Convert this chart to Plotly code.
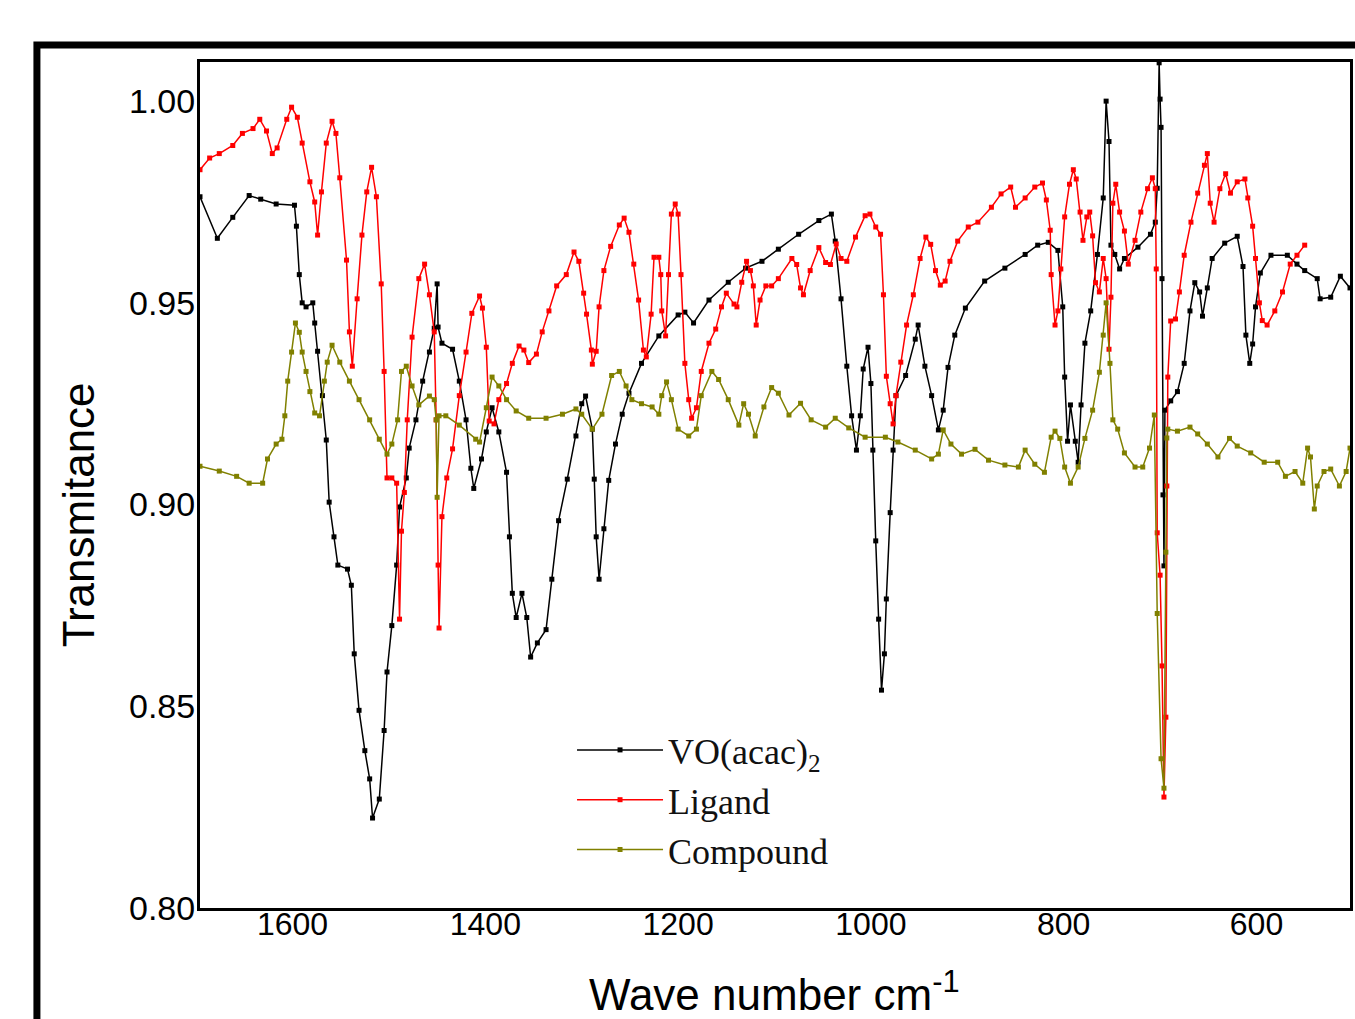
import plotly.graph_objects as go

# ---------------- data ----------------
vo_wn = [1696, 1678, 1662, 1645, 1633, 1617, 1598, 1596, 1593, 1590, 1586, 1579, 1577, 1574, 1569, 1565,
         1562, 1557, 1553, 1543, 1539, 1536, 1531, 1525, 1520, 1517, 1510, 1505, 1502, 1497, 1492, 1489,
         1482, 1479, 1472, 1465, 1458, 1453, 1450, 1449, 1445, 1434, 1427, 1420, 1415, 1412, 1404, 1399,
         1393, 1386, 1378, 1375, 1372, 1368, 1362, 1357, 1353, 1346, 1337, 1331, 1324, 1315, 1306, 1300,
         1296, 1289, 1287, 1285, 1282, 1277, 1272, 1265, 1258, 1251, 1238, 1220, 1200, 1193, 1184, 1168,
         1148, 1130, 1113, 1096, 1075, 1054, 1041, 1037, 1031, 1025, 1020, 1015, 1011, 1008, 1003, 1000,
         998, 995, 992, 989, 986, 984, 980, 977, 974, 964, 954, 951, 944, 937, 930, 925, 920, 913, 902,
         882, 861, 840, 827, 816, 806, 801, 799, 796, 793, 788, 785, 782, 778, 772, 765, 759, 756, 753,
         751, 747, 742, 737, 723, 710, 705, 703, 701, 700, 699, 698, 697, 696, 695, 689, 682, 675, 669,
         664, 659, 656, 651, 646, 633, 620, 614, 611, 607, 604, 601, 596, 585, 568, 558, 550, 537, 534,
         523, 513, 503]
vo_t = [0.9763, 0.966, 0.9712, 0.9766, 0.9757, 0.9745, 0.9742, 0.969, 0.957, 0.950, 0.949, 0.950, 0.945,
        0.938, 0.927, 0.916, 0.9006, 0.892, 0.885, 0.884, 0.880, 0.863, 0.849, 0.839, 0.832, 0.8223, 0.827,
        0.844, 0.8585, 0.870, 0.885, 0.8994, 0.9066, 0.914, 0.921, 0.9306, 0.9378, 0.9437, 0.9547, 0.944,
        0.940, 0.9385, 0.9306, 0.921, 0.909, 0.904, 0.9113, 0.918, 0.924, 0.918, 0.908, 0.892, 0.878,
        0.872, 0.878, 0.872, 0.8622, 0.8657, 0.869, 0.8815, 0.896, 0.9063, 0.917, 0.925, 0.9269, 0.9187,
        0.9063, 0.892, 0.8815, 0.894, 0.906, 0.915, 0.9224, 0.9276, 0.935, 0.9418, 0.947, 0.9477, 0.945,
        0.9507, 0.9551, 0.9586, 0.9603, 0.9633, 0.967, 0.9704, 0.972, 0.9653, 0.951, 0.9343, 0.922, 0.9135,
        0.922, 0.9336, 0.939, 0.930, 0.9135, 0.891, 0.8716, 0.854, 0.863, 0.8766, 0.898, 0.9135, 0.927,
        0.932, 0.941, 0.9445, 0.9343, 0.927, 0.9185, 0.9234, 0.934, 0.942, 0.9487, 0.9554, 0.9586, 0.962,
        0.9643, 0.965, 0.963, 0.949, 0.9316, 0.9157, 0.9247, 0.9157, 0.9105, 0.9247, 0.940, 0.948, 0.962,
        0.976, 1.000, 0.990, 0.9643, 0.962, 0.9584, 0.961, 0.9638, 0.967, 0.970, 0.9784, 1.0095, 1.0005,
        0.9935, 0.956, 0.9024, 0.8848, 0.9234, 0.9257, 0.928, 0.935, 0.948, 0.955, 0.9527, 0.9467, 0.9537,
        0.961, 0.9648, 0.9665, 0.959, 0.942, 0.935, 0.9398, 0.949, 0.9574, 0.9618, 0.9618, 0.9596, 0.958,
        0.956, 0.951, 0.9514, 0.9566, 0.9537]

lig_wn = [1696, 1686, 1676, 1662, 1652, 1641, 1634, 1627, 1621, 1616, 1606, 1601, 1595, 1590, 1582, 1577,
          1574, 1570, 1565, 1559, 1555, 1551, 1544, 1541, 1538, 1533, 1528, 1523, 1518, 1513, 1508, 1505,
          1502, 1497, 1492, 1489, 1487, 1484, 1481, 1476, 1469, 1463, 1458, 1453, 1451, 1449, 1448, 1445,
          1440, 1434, 1427, 1420, 1414, 1406, 1403, 1399, 1396, 1391, 1386, 1378, 1372, 1365, 1360, 1355,
          1347, 1341, 1334, 1326, 1316, 1308, 1303, 1298, 1295, 1290, 1289, 1285, 1282, 1277, 1270, 1261,
          1256, 1251, 1246, 1241, 1236, 1233, 1228, 1225, 1220, 1218, 1217, 1213, 1210, 1207, 1203, 1200,
          1197, 1193, 1189, 1186, 1181, 1176, 1168, 1161, 1155, 1150, 1142, 1139, 1134, 1129, 1125, 1122,
          1119, 1115, 1109, 1103, 1096, 1082, 1077, 1073, 1070, 1063, 1054, 1047, 1042, 1036, 1031, 1025,
          1016, 1006, 1001, 995, 990, 987, 984, 980, 977, 974, 969, 963, 956, 949, 943, 938, 933, 928, 923,
          918, 910, 899, 889, 875, 865, 855, 850, 840, 830, 822, 818, 814, 813, 809, 806, 803, 799, 794,
          790, 787, 783, 780, 776, 773, 770, 767, 763, 759, 756, 753, 751, 749, 746, 742, 737, 733, 726,
          720, 713, 708, 705, 704, 703, 700, 698, 696, 694, 693, 692, 689, 684, 680, 675, 668, 661, 654,
          651, 648, 644, 638, 632, 627, 620, 612, 609, 604, 601, 597, 594, 589, 581, 573, 565, 558, 550]
lig_t = [0.983, 0.9859, 0.987, 0.989, 0.992, 0.9932, 0.9955, 0.9926, 0.987, 0.9884, 0.9955, 0.9985, 0.996,
         0.9896, 0.980, 0.975, 0.9668, 0.9775, 0.9896, 0.995, 0.992, 0.981, 0.9606, 0.9428, 0.9343, 0.951,
         0.9668, 0.9775, 0.9836, 0.9763, 0.9547, 0.933, 0.9066, 0.9066, 0.9053, 0.8716, 0.8934, 0.903,
         0.921, 0.9415, 0.956, 0.9596, 0.952, 0.9428, 0.921, 0.885, 0.8694, 0.897, 0.9066, 0.9138, 0.927,
         0.9378, 0.9474, 0.9517, 0.9487, 0.939, 0.9207, 0.920, 0.926, 0.930, 0.935, 0.9393, 0.9383, 0.9352,
         0.9373, 0.9428, 0.948, 0.9542, 0.957, 0.9626, 0.9603, 0.9524, 0.9472, 0.9383, 0.9348, 0.938,
         0.949, 0.958, 0.964, 0.9693, 0.971, 0.9675, 0.9596, 0.9507, 0.9383, 0.9366, 0.9472, 0.9613,
         0.9613, 0.957, 0.948, 0.9418, 0.957, 0.972, 0.9745, 0.972, 0.957, 0.935, 0.926, 0.9214, 0.924,
         0.933, 0.940, 0.9435, 0.949, 0.9524, 0.9497, 0.949, 0.9551, 0.9603, 0.958, 0.9542, 0.9445, 0.9507,
         0.9542, 0.9542, 0.956, 0.961, 0.9595, 0.9537, 0.952, 0.958, 0.9637, 0.960, 0.9595, 0.9646, 0.961,
         0.9603, 0.9663, 0.9716, 0.972, 0.9688, 0.967, 0.952, 0.9318, 0.925, 0.920, 0.927, 0.9353, 0.9445,
         0.952, 0.961, 0.9663, 0.9645, 0.958, 0.9544, 0.9554, 0.9603, 0.9653, 0.9688, 0.970, 0.9737, 0.977,
         0.9787, 0.9737, 0.976, 0.9787, 0.9797, 0.9755, 0.968, 0.957, 0.9445, 0.948, 0.9584, 0.9713,
         0.9794, 0.983, 0.9807, 0.9725, 0.9655, 0.9713, 0.9725, 0.9666, 0.955, 0.9527, 0.961, 0.956,
         0.9385, 0.9514, 0.9747, 0.9794, 0.9725, 0.9678, 0.9596, 0.9655, 0.9725, 0.9783, 0.981, 0.9783,
         0.9584, 0.893, 0.8825, 0.860, 0.8275, 0.8473, 0.9046, 0.9316, 0.9455, 0.946, 0.9527, 0.9618,
         0.970, 0.9772, 0.9841, 0.987, 0.9747, 0.970, 0.9783, 0.982, 0.9772, 0.980, 0.9807, 0.976, 0.969,
         0.961, 0.950, 0.9456, 0.9445, 0.948, 0.9527, 0.9596, 0.9618, 0.9643]

cmp_wn = [1696, 1676, 1658, 1645, 1631, 1626, 1617, 1611, 1608, 1605, 1601, 1597, 1593, 1590, 1586, 1582,
          1577, 1572, 1567, 1564, 1559, 1551, 1541, 1531, 1520, 1510, 1502, 1497, 1491, 1487, 1482, 1476,
          1469, 1458, 1453, 1451, 1450, 1448, 1441, 1427, 1410, 1406, 1399, 1393, 1386, 1378, 1368, 1355,
          1337, 1320, 1306, 1300, 1289, 1279, 1269, 1261, 1254, 1248, 1238, 1227, 1220, 1217, 1212, 1207,
          1200, 1189, 1181, 1176, 1165, 1158, 1148, 1137, 1132, 1127, 1120, 1111, 1103, 1096, 1085, 1073,
          1062, 1047, 1037, 1023, 1006, 985, 972, 954, 937, 930, 925, 917, 906, 892, 878, 861, 847, 840,
          830, 820, 813, 809, 804, 799, 793, 785, 778, 770, 763, 759, 756, 752, 749, 744, 737, 726, 718,
          711, 706, 703, 699, 696, 694, 693, 692, 682, 669, 661, 651, 640, 628, 620, 606, 592, 578, 570,
          560, 552, 547, 544, 540, 537, 530, 523, 514, 507, 503]
cmp_t = [0.9095, 0.9083, 0.907, 0.9053, 0.9053, 0.9113, 0.915, 0.9162, 0.922, 0.9306, 0.9378, 0.945,
         0.9427, 0.9378, 0.933, 0.928, 0.9227, 0.922, 0.9306, 0.9353, 0.9395, 0.9353, 0.9306, 0.926, 0.921,
         0.9162, 0.9125, 0.915, 0.921, 0.933, 0.9343, 0.9294, 0.9247, 0.9269, 0.926, 0.921, 0.9018, 0.922,
         0.922, 0.9197, 0.9162, 0.9155, 0.924, 0.9316, 0.9294, 0.926, 0.9232, 0.9214, 0.9214, 0.9224,
         0.9237, 0.9224, 0.9187, 0.9224, 0.932, 0.933, 0.9294, 0.926, 0.925, 0.9242, 0.9224, 0.927,
         0.9304, 0.926, 0.9187, 0.917, 0.9187, 0.927, 0.933, 0.931, 0.926, 0.9197, 0.925, 0.9224, 0.917,
         0.9242, 0.929, 0.9276, 0.9222, 0.9251, 0.921, 0.9192, 0.9214, 0.919, 0.9167, 0.9167, 0.9155,
         0.9135, 0.9113, 0.9125, 0.9185, 0.915, 0.9125, 0.9137, 0.911, 0.9098, 0.9093, 0.9135, 0.910,
         0.908, 0.9167, 0.9182, 0.9164, 0.9093, 0.9053, 0.9093, 0.9164, 0.9234, 0.9328, 0.942, 0.950,
         0.935, 0.921, 0.9187, 0.9128, 0.9093, 0.9093, 0.914, 0.9222, 0.873, 0.837, 0.8297, 0.8882,
         0.9165, 0.9187, 0.9182, 0.9192, 0.9175, 0.915, 0.9118, 0.9164, 0.9145, 0.9128, 0.9105, 0.9105,
         0.907, 0.9082, 0.9053, 0.914, 0.9118, 0.8989, 0.9046, 0.9082, 0.9088, 0.9046, 0.9082, 0.914]

x_ticks = [1600, 1400, 1200, 1000, 800, 600]
y_ticks = [0.80, 0.85, 0.90, 0.95, 1.00]
y_tick_text = ["0.80", "0.85", "0.90", "0.95", "1.00"]

series = [
    ("VO(acac)<sub>2</sub>", vo_wn, vo_t, "#000000"),
    ("Ligand", lig_wn, lig_t, "#ff0000"),
    ("Compound", cmp_wn, cmp_t, "#808000"),
]

fig = go.Figure()
for i, (name, xs, ys, col) in enumerate(series):
    fig.add_trace(go.Scatter(
        x=xs, y=ys, name=name, mode="lines+markers",
        line=dict(color=col, width=1.5),
        marker=dict(symbol="square", size=5, color=col),
        legendgroup=f"g{i}",
    ))

W, H = 1355, 1019
L, R, T, B = 200, 2, 62, 111
pw, ph = W - L - R, H - T - B

def px_x(p):
    return (p - L) / pw

def px_y(p):
    return (H - B - p) / ph

fig.update_layout(
    width=W, height=H,
    margin=dict(l=L, r=R, t=T, b=B, pad=0),
    paper_bgcolor="white", plot_bgcolor="white",
    font=dict(family="Arial, Liberation Sans, sans-serif", color="black"),
    showlegend=True,
    legend=dict(
        x=px_x(573), y=px_y(720), xanchor="left", yanchor="top",
        bgcolor="rgba(0,0,0,0)", borderwidth=0,
        font=dict(family="Times New Roman, Liberation Serif, serif", size=36, color="#111111"),
        itemwidth=86, tracegroupgap=0,
    ),
    xaxis=dict(
        range=[1696, 503], tickvals=x_ticks, ticks="", showgrid=False, zeroline=False,
        showline=True, linecolor="black", linewidth=3, mirror=True,
        tickfont=dict(size=32, family="Arial, Liberation Sans, sans-serif"),
        ticklabelstandoff=-14,
    ),
    yaxis=dict(
        range=[0.80, 1.0097], tickvals=y_ticks, ticktext=y_tick_text, ticks="",
        showgrid=False, zeroline=False,
        showline=True, linecolor="black", linewidth=3, mirror=True,
        tickfont=dict(size=34, family="Arial, Liberation Sans, sans-serif"),
        ticklabelstandoff=-5,
    ),
    annotations=[
        dict(text="Wave number cm<sup>-1</sup>", xref="paper", yref="paper",
             x=px_x(776), y=px_y(991), xanchor="center", yanchor="middle", showarrow=False,
             font=dict(size=44, family="Arial, Liberation Sans, sans-serif")),
        dict(text="Transmitance", xref="paper", yref="paper", textangle=-90,
             x=px_x(78), y=px_y(515), xanchor="center", yanchor="middle", showarrow=False,
             font=dict(size=44, family="Arial, Liberation Sans, sans-serif")),
    ],
    shapes=[
        dict(type="rect", xref="paper", yref="paper",
             x0=px_x(36.5), x1=px_x(1420), y0=px_y(1080), y1=px_y(45),
             line=dict(color="black", width=7), fillcolor="rgba(0,0,0,0)", layer="below"),
    ],
)

fig.write_html("out.html", config={"displayModeBar": False},
               post_script="document.body.style.margin='0';document.body.style.overflow='hidden';")
